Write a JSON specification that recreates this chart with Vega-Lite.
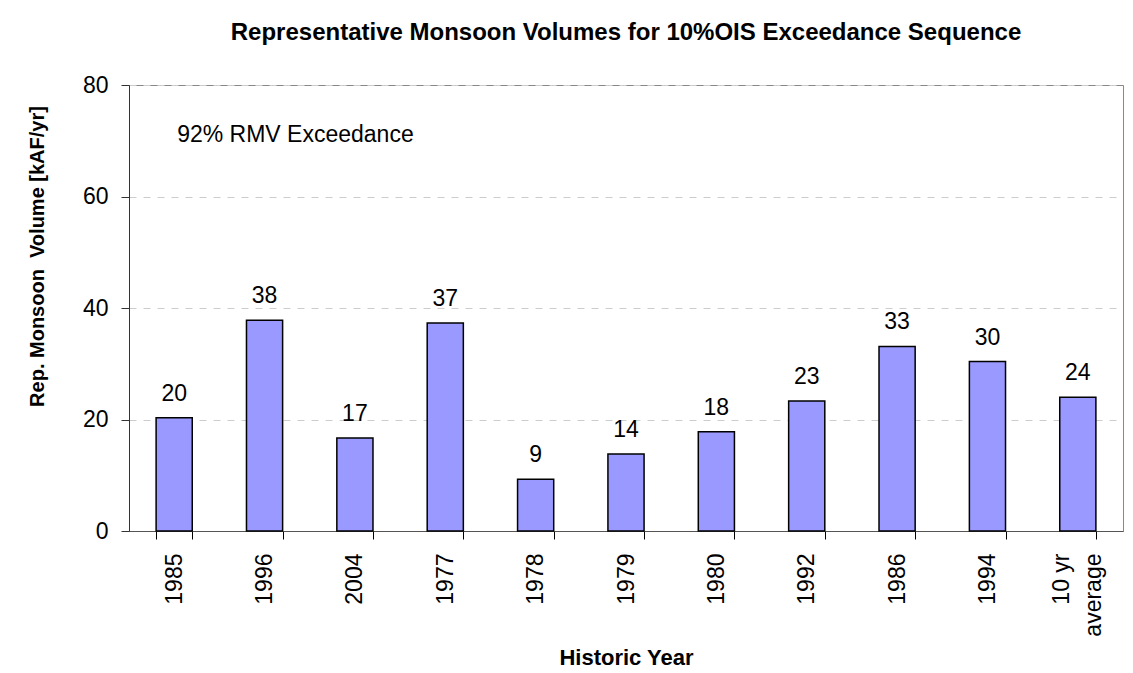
{
  "$schema": "https://vega.github.io/schema/vega-lite/v6.json",
  "width": 994,
  "height": 446,
  "autosize": {"type": "none"},
  "padding": {"left": 129, "top": 85, "right": 10, "bottom": 142},
  "background": "white",
  "title": {
    "text": "Representative Monsoon Volumes for 10%OIS Exceedance Sequence",
    "font": "Liberation Sans",
    "fontSize": 24,
    "fontWeight": "bold",
    "color": "black",
    "anchor": "middle",
    "offset": 29
  },
  "config": {
    "view": {"stroke": "#888888", "strokeWidth": 1},
    "font": "Liberation Sans"
  },
  "datasets": {
    "bars": [
      {"year": "1985", "volume": 20.3},
      {"year": "1996", "volume": 37.8},
      {"year": "2004", "volume": 16.7},
      {"year": "1977", "volume": 37.3},
      {"year": "1978", "volume": 9.3},
      {"year": "1979", "volume": 13.8},
      {"year": "1980", "volume": 17.8},
      {"year": "1992", "volume": 23.3},
      {"year": "1986", "volume": 33.1},
      {"year": "1994", "volume": 30.4},
      {"year": "10 yr average", "volume": 24.0}
    ],
    "note": [
      {"year": "1985", "volume": 71, "label": "92% RMV Exceedance"}
    ]
  },
  "layer": [
    {
      "data": {"name": "bars"},
      "mark": {"type": "bar", "fill": "#9999FF", "stroke": "black", "strokeWidth": 1.5},
      "encoding": {
        "x": {
          "field": "year",
          "type": "nominal",
          "sort": null,
          "scale": {"paddingInner": 0.6, "paddingOuter": 0.3},
          "axis": {
            "title": "Historic Year",
            "titleFont": "Liberation Sans",
            "titleFontSize": 22,
            "titleFontWeight": "bold",
            "titleColor": "black",
            "titlePadding": 11,
            "labelAngle": -90,
            "labelFont": "Liberation Sans",
            "labelFontSize": 23,
            "labelColor": "black",
            "labelPadding": 14,
            "labelLineHeight": 32,
            "labelExpr": "datum.value == '10 yr average' ? ['10 yr', 'average'] : datum.label",
            "labelOffset": {"condition": {"test": "datum.value == '10 yr average'", "value": -16}, "value": 0},
            "tickBand": "extent",
            "tickSize": 8,
            "tickColor": "black",
            "domainColor": "#555555",
            "grid": false
          }
        },
        "y": {
          "field": "volume",
          "type": "quantitative",
          "scale": {"domain": [0, 80], "nice": false},
          "axis": {
            "title": "Rep. Monsoon\u00a0 Volume [kAF/yr]",
            "titleFont": "Liberation Sans",
            "titleFontSize": 20,
            "titleFontWeight": "bold",
            "titleColor": "black",
            "titlePadding": 35,
            "titleY": 171,
            "values": [0, 20, 40, 60, 80],
            "labelFont": "Liberation Sans",
            "labelFontSize": 23,
            "labelColor": "black",
            "labelPadding": 13,
            "tickSize": 8,
            "tickColor": "#333333",
            "domainColor": "#333333",
            "grid": true,
            "gridColor": "#cccccc",
            "gridDash": [7, 7]
          }
        }
      }
    },
    {
      "data": {"name": "bars"},
      "mark": {"type": "text", "font": "Liberation Sans", "fontSize": 23, "color": "black", "baseline": "alphabetic", "dy": -17},
      "encoding": {
        "x": {"field": "year", "type": "nominal", "sort": null},
        "y": {"field": "volume", "type": "quantitative"},
        "text": {"field": "volume", "type": "quantitative", "format": ".0f"}
      }
    },
    {
      "data": {"name": "note"},
      "mark": {"type": "text", "font": "Liberation Sans", "fontSize": 23, "color": "black", "align": "left", "baseline": "middle", "dx": 3},
      "encoding": {
        "x": {"field": "year", "type": "nominal", "sort": null},
        "y": {"field": "volume", "type": "quantitative"},
        "text": {"field": "label", "type": "nominal"}
      }
    }
  ]
}
